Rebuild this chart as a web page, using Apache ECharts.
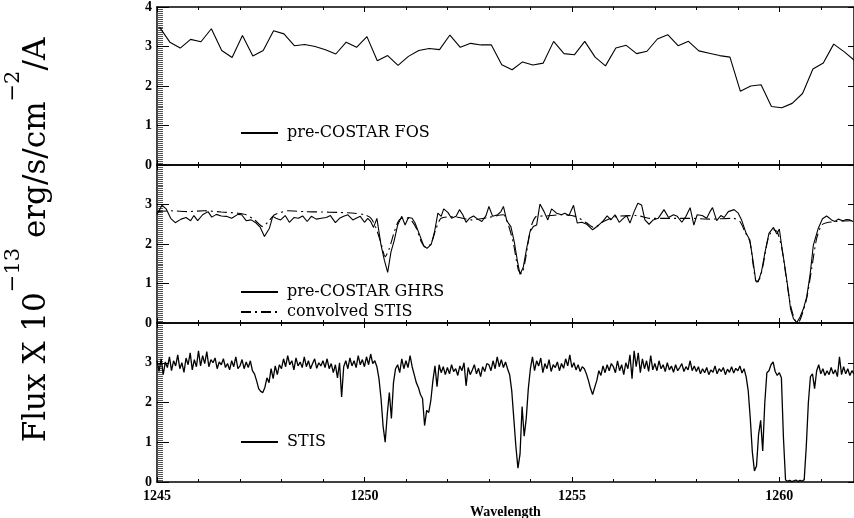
<!DOCTYPE html>
<html>
<head>
<meta charset="utf-8">
<script src="https://cdn.jsdelivr.net/npm/echarts@6/dist/echarts.min.js"></script>
<style>html,body{margin:0;padding:0;background:#fff;}#chart{width:854px;height:518px;}</style>
</head>
<body>
<div id="chart"></div>
<script>
// ---- axis ranges / ticks ----
const xMin = 1245, xMax = 1261.8, xInterval = 5;
const yMin = 0, yMax = 4, yInterval = 1;

// ---- pre-COSTAR FOS (uniform grid) ----
const fosStart = 1245.06, fosStep = 0.25;
const fosFlux = [3.49, 3.11, 2.96, 3.18, 3.12, 3.45, 2.90, 2.72, 3.28, 2.76, 2.90, 3.40, 3.32, 3.02, 3.05, 3.00,
  2.92, 2.81, 3.11, 2.98, 3.25, 2.64, 2.77, 2.52, 2.75, 2.90, 2.95, 2.92, 3.29, 2.98, 3.08, 3.04,
  3.04, 2.54, 2.41, 2.61, 2.53, 2.58, 3.13, 2.82, 2.79, 3.13, 2.73, 2.51, 2.96, 3.03, 2.82, 2.88,
  3.19, 3.30, 3.02, 3.13, 2.89, 2.83, 2.77, 2.73, 1.87, 2.00, 2.03, 1.48, 1.45, 1.56, 1.81, 2.43,
  2.58, 3.06, 2.87, 2.65];

// ---- pre-COSTAR GHRS ----
const ghrsWave = [1245.00, 1245.12, 1245.22, 1245.33, 1245.44, 1245.58, 1245.70, 1245.81, 1245.89, 1245.98,
  1246.10, 1246.23, 1246.32, 1246.43, 1246.55, 1246.67, 1246.80, 1246.95, 1247.04, 1247.15,
  1247.27, 1247.39, 1247.49, 1247.59, 1247.71, 1247.79, 1247.87, 1247.98, 1248.09, 1248.19,
  1248.30, 1248.41, 1248.51, 1248.62, 1248.72, 1248.84, 1248.96, 1249.08, 1249.18, 1249.30,
  1249.40, 1249.50, 1249.60, 1249.72, 1249.80, 1249.90, 1250.00, 1250.08, 1250.15, 1250.22,
  1250.30, 1250.40, 1250.48, 1250.56, 1250.64, 1250.72, 1250.80, 1250.90, 1250.98, 1251.06,
  1251.15, 1251.22, 1251.33, 1251.43, 1251.51, 1251.61, 1251.69, 1251.77, 1251.85, 1251.91,
  1252.01, 1252.10, 1252.21, 1252.29, 1252.37, 1252.45, 1252.53, 1252.63, 1252.73, 1252.83,
  1252.93, 1253.00, 1253.09, 1253.21, 1253.29,
  1253.35, 1253.43, 1253.53, 1253.61, 1253.69, 1253.75, 1253.83, 1253.91, 1253.99, 1254.07,
  1254.15, 1254.23, 1254.33, 1254.42, 1254.51, 1254.63, 1254.75, 1254.83, 1254.93, 1255.04,
  1255.13, 1255.24, 1255.36, 1255.50, 1255.64, 1255.76, 1255.85, 1255.94, 1256.04, 1256.14,
  1256.24, 1256.32, 1256.40, 1256.50, 1256.59, 1256.68, 1256.76, 1256.86, 1256.96, 1257.08,
  1257.22, 1257.33, 1257.45, 1257.54, 1257.65, 1257.75, 1257.85, 1257.94, 1258.02, 1258.14,
  1258.25, 1258.33, 1258.39, 1258.49, 1258.59, 1258.67, 1258.77, 1258.91, 1259.01, 1259.09,
  1259.20, 1259.29, 1259.37, 1259.43, 1259.49, 1259.57, 1259.65, 1259.75, 1259.86, 1259.94,
  1260.00, 1260.06, 1260.14, 1260.22, 1260.27, 1260.34, 1260.42, 1260.50, 1260.58, 1260.66,
  1260.74, 1260.82, 1260.94, 1261.04, 1261.14, 1261.26, 1261.34, 1261.42, 1261.53, 1261.62,
  1261.70, 1261.78];
const ghrsFlux = [2.75, 2.98, 2.89, 2.65, 2.54, 2.63, 2.67, 2.59, 2.72, 2.59,
  2.74, 2.82, 2.68, 2.75, 2.71, 2.70, 2.65, 2.75, 2.74, 2.59,
  2.61, 2.53, 2.42, 2.19, 2.40, 2.70, 2.65, 2.61, 2.72, 2.55,
  2.67, 2.65, 2.71, 2.57, 2.70, 2.63, 2.65, 2.67, 2.72, 2.54,
  2.65, 2.70, 2.74, 2.61, 2.65, 2.70, 2.55, 2.65, 2.57, 2.42,
  2.65, 1.97, 1.59, 1.28, 1.80, 2.10, 2.48, 2.70, 2.48, 2.67,
  2.65, 2.53, 2.23, 1.95, 1.89, 1.99, 2.31, 2.78, 2.70, 2.89,
  2.80, 2.65, 2.70, 2.87, 2.74, 2.55, 2.65, 2.71, 2.63, 2.57,
  2.72, 2.95, 2.70, 2.74, 2.82,
  2.95, 2.59, 2.44, 2.06, 1.55, 1.23, 1.42, 1.89, 2.31, 2.44,
  2.48, 3.01, 2.82, 2.61, 2.89, 2.78, 2.74, 2.78, 2.72, 2.98,
  2.53, 2.55, 2.50, 2.36, 2.47, 2.59, 2.71, 2.61, 2.74, 2.55,
  2.65, 2.72, 2.53, 2.82, 3.03, 2.99, 2.61, 2.50, 2.61, 2.65,
  2.87, 2.67, 2.74, 2.70, 2.55, 2.70, 2.92, 2.48, 2.74, 2.72,
  2.65, 2.82, 2.92, 2.59, 2.72, 2.67, 2.82, 2.87, 2.78, 2.61,
  2.27, 2.10, 1.55, 1.08, 1.04, 1.30, 1.76, 2.27, 2.42, 2.25,
  2.38, 1.93, 1.38, 0.79, 0.36, 0.11, 0.01, 0.15, 0.36, 0.66,
  1.21, 1.97, 2.40, 2.64, 2.71, 2.61, 2.57, 2.63, 2.59, 2.62,
  2.61, 2.57];

// ---- convolved STIS ----
const convWave = [1245.00, 1245.34, 1245.74, 1246.14, 1246.55, 1246.95, 1247.15, 1247.35, 1247.55, 1247.67,
  1247.83, 1247.99, 1248.15, 1248.55, 1248.96, 1249.36, 1249.76, 1250.00, 1250.16, 1250.28,
  1250.40, 1250.50, 1250.60, 1250.72, 1250.84, 1251.00, 1251.12, 1251.25, 1251.37, 1251.49,
  1251.61, 1251.73, 1251.85, 1252.17, 1252.57, 1252.97, 1253.35, 1253.47, 1253.59, 1253.71,
  1253.79, 1253.87, 1253.95, 1254.03, 1254.15, 1254.39, 1254.71, 1255.08, 1255.36, 1255.52,
  1255.76, 1256.08, 1256.56, 1256.88, 1257.36, 1257.85, 1258.33, 1258.89, 1259.05, 1259.17,
  1259.29, 1259.37, 1259.45, 1259.53, 1259.61, 1259.73, 1259.86, 1259.95, 1260.06, 1260.18,
  1260.27, 1260.38, 1260.46, 1260.54, 1260.66, 1260.78, 1260.90, 1261.02, 1261.14, 1261.38,
  1261.78];
const convFlux = [2.82, 2.84, 2.82, 2.84, 2.81, 2.78, 2.74, 2.61, 2.44, 2.55,
  2.74, 2.80, 2.84, 2.82, 2.81, 2.80, 2.78, 2.74, 2.65, 2.40,
  2.02, 1.68, 1.89, 2.31, 2.61, 2.67, 2.61, 2.40, 2.06, 1.91,
  2.02, 2.40, 2.65, 2.69, 2.61, 2.67, 2.74, 2.48, 2.02, 1.34,
  1.25, 1.55, 2.06, 2.48, 2.70, 2.71, 2.74, 2.70, 2.53, 2.42,
  2.57, 2.70, 2.72, 2.65, 2.65, 2.65, 2.63, 2.65, 2.57, 2.31,
  2.06, 1.47, 1.04, 1.13, 1.47, 2.14, 2.36, 2.31, 1.89, 1.04,
  0.45, 0.07, 0.02, 0.19, 0.62, 1.38, 2.14, 2.48, 2.54, 2.57,
  2.59];

// ---- STIS (uniform grid, 0.05 A) ----
const stisStart = 1245.00, stisStep = 0.05;
const stisFlux = [
  3.05, 2.78, 3.10, 2.70, 3.02, 2.88, 3.15, 2.80, 3.05, 2.92, 3.20, 2.85, 3.00, 2.76, 3.12, 2.95, 3.25, 2.82, 3.08, 2.90,
  3.30, 2.92, 3.18, 2.98, 3.28, 2.90, 3.08, 3.00, 3.12, 2.85, 3.02, 2.95, 3.10, 2.88, 2.98, 2.82, 3.05, 2.90, 3.15, 2.85,
  2.92, 3.08, 2.85, 3.02, 2.88, 3.05, 2.80, 2.72, 2.55, 2.35, 2.28, 2.25, 2.38, 2.62, 2.50, 2.85, 2.60, 2.92, 2.70, 2.95,
  2.85, 3.10, 2.90, 3.18, 2.95, 3.05, 2.82, 3.12, 2.92, 3.02, 2.88, 3.15, 2.90, 3.05, 2.85, 2.98, 3.10, 2.86, 3.00, 2.92,
  3.05, 2.88, 3.10, 2.85, 2.98, 2.75, 2.95, 2.62, 3.00, 2.14, 2.90, 3.05, 2.85, 3.12, 2.92, 3.05, 2.88, 3.18, 2.95, 3.08,
  2.90, 3.15, 2.95, 3.22, 2.98, 3.05, 2.90, 2.60, 2.10, 1.40, 1.00, 1.70, 2.25, 1.60, 2.50, 2.85, 2.95, 2.75, 3.10, 2.85,
  3.05, 2.88, 3.18, 2.90, 2.70, 2.50, 2.38, 2.20, 2.10, 1.42, 1.80, 1.75, 2.05, 2.55, 2.92, 2.40, 2.95, 2.75, 2.90, 2.70,
  2.88, 2.72, 2.95, 2.78, 2.85, 2.68, 2.92, 2.80, 3.00, 2.42, 2.88, 2.70, 2.82, 2.95, 2.72, 2.86, 2.65, 2.90, 2.78, 2.98,
  2.95, 2.80, 3.05, 2.85, 3.15, 2.90, 3.08, 2.88, 3.02, 2.85, 2.70, 2.30, 1.60, 0.90, 0.35, 0.70, 1.90, 1.15, 1.60, 2.35,
  2.85, 3.15, 2.80, 3.05, 2.92, 3.12, 2.75, 2.98, 2.85, 3.08, 2.78, 2.95, 2.88, 3.02, 2.80, 2.98, 2.86, 3.10, 2.92, 3.20,
  2.88, 3.00, 2.82, 2.95, 2.78, 2.90, 2.85, 2.72, 2.55, 2.35, 2.20, 2.38, 2.55, 2.80, 2.68, 2.92, 2.75, 2.95, 2.80, 2.98,
  2.90, 2.75, 3.05, 2.80, 2.95, 2.70, 3.00, 2.85, 3.20, 2.60, 3.30, 2.90, 3.25, 2.75, 3.10, 2.85, 3.05, 2.78, 3.18, 2.82,
  2.98, 2.80, 3.05, 2.85, 2.95, 2.78, 3.00, 2.82, 2.92, 2.76, 2.95, 2.80, 2.88, 2.98, 2.78, 2.90, 2.82, 3.05, 2.80, 2.92,
  2.78, 2.90, 2.72, 2.85, 2.75, 2.88, 2.70, 2.82, 2.76, 2.92, 2.72, 2.85, 2.78, 2.88, 2.70, 2.84, 2.76, 2.90, 2.74, 2.86,
  2.80, 2.92, 2.74, 2.85, 2.65, 2.30, 1.60, 0.75, 0.28, 0.40, 1.20, 1.55, 0.78, 2.00, 2.75, 2.80, 2.95, 3.02, 2.78, 2.68,
  2.75, 2.62, 1.10, 0.05, 0.02, 0.04, 0.01, 0.03, 0.05, 0.01, 0.04, 0.02, 0.06, 0.90, 2.00, 2.65, 2.72, 2.35, 2.80, 2.95,
  2.72, 2.85, 2.68, 2.80, 2.70, 2.88, 2.72, 2.82, 2.65, 3.15, 2.70, 2.90, 2.72, 2.85, 2.68, 2.80, 2.72];

// ---- labels ----
const seriesNames = ['pre-COSTAR FOS', 'pre-COSTAR GHRS', 'convolved STIS', 'STIS'];
const xTitle = 'Wavelength';

// ---- build pairs ----
const uniformPairs = (start, step, vals) => vals.map((v, i) => [+(start + i * step).toFixed(3), v]);
const zipPairs = (xs, ys) => ys.slice(0, xs.length).map((v, i) => [xs[i], v]);

const tickFont = {fontFamily: 'Liberation Serif', fontWeight: 'bold', fontSize: 14, color: '#000'};
const axisLineStyle = {color: '#000', width: 1.5};

function xAxesFor(gi, showLabels) {
  const base = {
    type: 'value', gridIndex: gi, min: xMin, max: xMax, interval: xInterval,
    splitLine: {show: false}, minorSplitLine: {show: false},
    axisLine: {show: true, onZero: false, lineStyle: axisLineStyle},
    axisTick: {show: true, inside: true, length: 5, lineStyle: {color: '#000', width: 1}},
    minorTick: {show: true, splitNumber: 5, length: 3, lineStyle: {color: '#000', width: 1}}
  };
  return [
    Object.assign({}, base, {
      position: 'bottom',
      axisLabel: Object.assign({show: showLabels, margin: 7, showMaxLabel: false,
        formatter: v => String(v)}, tickFont),
      name: showLabels ? xTitle : '', nameLocation: 'middle', nameGap: 23,
      nameTextStyle: {fontFamily: 'Liberation Serif', fontWeight: 'bold', fontSize: 14, color: '#000'}
    }),
    Object.assign({}, base, {position: 'top', axisLabel: {show: false}})
  ];
}

function yAxesFor(gi, showMax, nameOpts) {
  return [
    Object.assign({
      type: 'value', gridIndex: gi, min: yMin, max: yMax, interval: yInterval, position: 'left',
      splitLine: {show: false}, minorSplitLine: {show: false},
      axisLine: {show: true, onZero: false, lineStyle: axisLineStyle},
      axisTick: {show: true, inside: true, length: 12, lineStyle: {color: '#000', width: 1}},
      minorTick: {show: true, splitNumber: 20, length: 6, lineStyle: {color: '#555', width: 1}},
      axisLabel: Object.assign({margin: 5, showMaxLabel: showMax}, tickFont)
    }, nameOpts || {}),
    {
      type: 'value', gridIndex: gi, min: yMin, max: yMax, interval: yInterval, position: 'right',
      splitLine: {show: false},
      axisLine: {show: true, onZero: false, lineStyle: axisLineStyle},
      axisTick: {show: true, inside: true, length: 6, lineStyle: {color: '#000', width: 1}},
      axisLabel: {show: false}
    }
  ];
}

const yTitle = {
  name: '{m|Flux X 10}{s|\u221213}{m| erg/s/cm}{s|\u22122}{m|/A}',
  nameLocation: 'middle', nameRotate: 90, nameGap: 105,
  nameTextStyle: {
    padding: [0, 0, 0, 8],
    rich: {
      m: {fontFamily: 'DejaVu Serif', fontSize: 31, color: '#000', verticalAlign: 'bottom', padding: [18, 0, 0, 0]},
      s: {fontFamily: 'DejaVu Serif', fontSize: 21, color: '#000', verticalAlign: 'top'}
    }
  }
};

const lineBase = {type: 'line', showSymbol: false, symbol: 'none', animation: false, clip: true,
  lineStyle: {color: '#000', width: 1.1}, itemStyle: {color: '#000'}};

const legendBase = {
  orient: 'vertical', left: 240, itemWidth: 37, itemHeight: 14, itemGap: 4, padding: 0,
  itemStyle: {opacity: 0},
  textStyle: {fontFamily: 'DejaVu Serif', fontSize: 16, color: '#000', padding: [0, 0, 0, 4]}
};

const gridBase = {left: 157, right: 0, outerBoundsMode: 'none', containLabel: false};

const option = {
  backgroundColor: '#fff',
  animation: false,
  grid: [
    Object.assign({}, gridBase, {top: 7, height: 158}),
    Object.assign({}, gridBase, {top: 165, height: 158}),
    Object.assign({}, gridBase, {top: 323, height: 159})
  ],
  xAxis: [].concat(xAxesFor(0, false), xAxesFor(1, false), xAxesFor(2, true)),
  yAxis: [].concat(yAxesFor(0, true), yAxesFor(1, false, yTitle), yAxesFor(2, false)),
  legend: [
    Object.assign({}, legendBase, {top: 125, data: [seriesNames[0]]}),
    Object.assign({}, legendBase, {top: 284, data: [seriesNames[1], seriesNames[2]]}),
    Object.assign({}, legendBase, {top: 434, data: [seriesNames[3]]})
  ],
  series: [
    Object.assign({}, lineBase, {name: seriesNames[0], xAxisIndex: 0, yAxisIndex: 0,
      data: uniformPairs(fosStart, fosStep, fosFlux)}),
    Object.assign({}, lineBase, {name: seriesNames[1], xAxisIndex: 2, yAxisIndex: 2,
      data: zipPairs(ghrsWave, ghrsFlux)}),
    Object.assign({}, lineBase, {name: seriesNames[2], xAxisIndex: 2, yAxisIndex: 2, smooth: 0.25,
      lineStyle: {color: '#000', width: 1.1, type: [10, 4, 2, 4]},
      data: zipPairs(convWave, convFlux)}),
    Object.assign({}, lineBase, {name: seriesNames[3], xAxisIndex: 4, yAxisIndex: 4,
      lineStyle: {color: '#000', width: 1.3},
      data: uniformPairs(stisStart, stisStep, stisFlux)})
  ]
};

const chart = echarts.init(document.getElementById('chart'), null, {renderer: 'canvas'});
chart.setOption(option);
</script>
</body>
</html>
